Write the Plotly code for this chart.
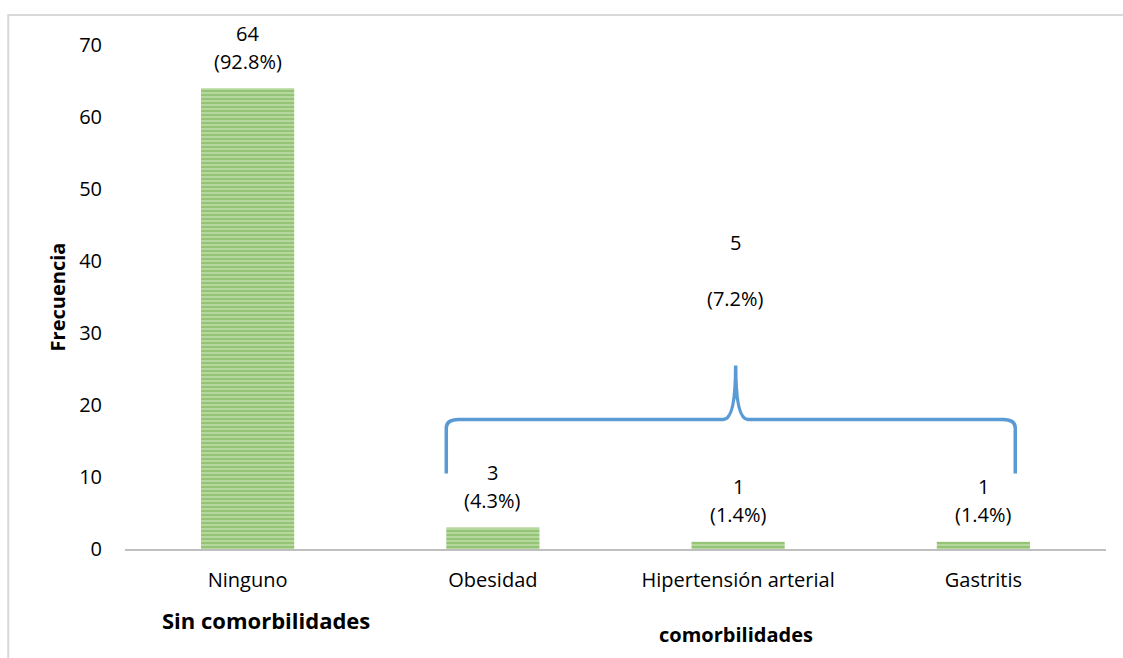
import plotly.graph_objects as go

# Datos: frecuencia de comorbilidades
categorias = ["Ninguno", "Obesidad", "Hipertensión arterial", "Gastritis"]
frecuencia = [64, 3, 1, 1]
porcentaje = ["92.8%", "4.3%", "1.4%", "1.4%"]
y_ticks = [0, 10, 20, 30, 40, 50, 60, 70]

total_comorb = sum(frecuencia[1:])
porc_comorb = "7.2%"

FONT = "Open Sans"
GREEN = "#6AAA40"
GREEN_LIGHT = "#C2DFAE"
BLUE = "#5B9BD5"
FS = 20

x_pos = list(range(len(categorias)))
bar_w = 0.38

fig = go.Figure()
fig.add_trace(go.Bar(
    x=x_pos,
    y=frecuencia,
    width=bar_w,
    marker=dict(
        color=GREEN_LIGHT,
        line=dict(width=0),
        pattern=dict(shape="-", fgcolor=GREEN, bgcolor=GREEN_LIGHT,
                     size=4, solidity=0.65, fillmode="overlay"),
    ),
    hoverinfo="skip",
))

# Etiquetas de datos: frecuencia y porcentaje encima de cada barra
for xi, v, p in zip(x_pos, frecuencia, porcentaje):
    fig.add_annotation(x=xi, y=v, xref="x", yref="y", text=str(v),
                       showarrow=False, yanchor="middle", yshift=55,
                       font=dict(family=FONT, size=FS, color="#000000"))
    fig.add_annotation(x=xi, y=v, xref="x", yref="y", text=f"({p})",
                       showarrow=False, yanchor="middle", yshift=27,
                       font=dict(family=FONT, size=FS, color="#000000"))

# Llave que agrupa las comorbilidades
y_brace = 18.0
y_low = 10.5
y_peak = 25.5
x_left = x_pos[1] - bar_w / 2
x_right = x_pos[3] + 0.13
x_mid = x_pos[2] - 0.01
dx = 0.05
dy = 1.2
path = (
    f"M {x_left},{y_low} "
    f"L {x_left},{y_brace - dy} "
    f"Q {x_left},{y_brace} {x_left + dx},{y_brace} "
    f"L {x_mid - dx},{y_brace} "
    f"Q {x_mid},{y_brace} {x_mid},{y_peak} "
    f"Q {x_mid},{y_brace} {x_mid + dx},{y_brace} "
    f"L {x_right - dx},{y_brace} "
    f"Q {x_right},{y_brace} {x_right},{y_brace - dy} "
    f"L {x_right},{y_low}"
)
fig.add_shape(type="path", path=path, xref="x", yref="y",
              line=dict(color=BLUE, width=3.5))

# Marco del área del gráfico
fig.add_shape(type="path", xref="paper", yref="paper",
              path="M -0.119,-0.25 L -0.119,1.0595 L 1.05,1.0595",
              line=dict(color="#D9D9D9", width=2))

# Total del grupo con comorbilidades
fig.add_annotation(x=x_mid, y=y_peak, xref="x", yref="y",
                   text=str(total_comorb), showarrow=False,
                   yanchor="middle", yshift=123,
                   font=dict(family=FONT, size=FS, color="#000000"))
fig.add_annotation(x=x_mid, y=y_peak, xref="x", yref="y",
                   text=f"({porc_comorb})", showarrow=False,
                   yanchor="middle", yshift=67,
                   font=dict(family=FONT, size=FS, color="#000000"))

fig.add_annotation(x=x_pos[0], y=-0.14, xref="x", yref="paper",
                   text="<b>Sin comorbilidades</b>", showarrow=False,
                   yanchor="middle", xshift=18,
                   font=dict(family=FONT, size=22, color="#000000"))
fig.add_annotation(x=x_mid, y=-0.169, xref="x", yref="paper",
                   text="<b>comorbilidades</b>", showarrow=False,
                   yanchor="middle",
                   font=dict(family=FONT, size=20, color="#000000"))

fig.update_layout(
    width=1123, height=658,
    margin=dict(l=125, r=17, t=45, b=109),
    paper_bgcolor="white", plot_bgcolor="white",
    showlegend=False,
    font=dict(family=FONT, size=FS, color="#000000"),
    xaxis=dict(
        range=[-0.5, 3.5],
        tickvals=x_pos, ticktext=categorias,
        showgrid=False, zeroline=False,
        showline=True, linecolor="#BFBFBF", linewidth=2,
        ticks="", ticklabelstandoff=12,
        tickfont=dict(family=FONT, size=FS),
    ),
    yaxis=dict(
        range=[0, 70],
        tickvals=y_ticks,
        showgrid=False, zeroline=False, showline=False,
        ticks="", ticklabelstandoff=22,
        tickfont=dict(family=FONT, size=FS),
        title=dict(text="<b>Frecuencia</b>", standoff=8,
                   font=dict(family=FONT, size=20)),
    ),
)

fig.write_html("out.html")
